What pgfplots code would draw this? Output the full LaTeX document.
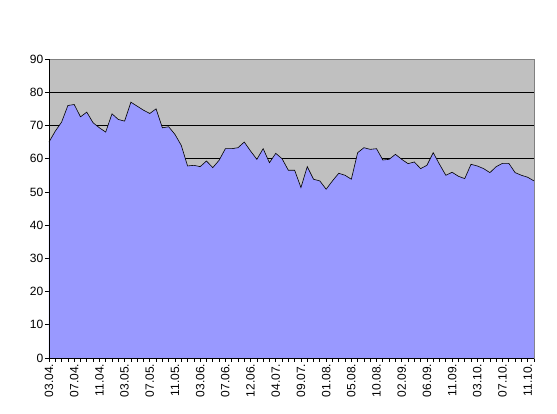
\documentclass[border=0pt]{standalone}
\usepackage{fontspec}
\setmainfont{Liberation Sans}
\usepackage{pgfplots}
\usepackage{pgfplotstable}
\pgfplotsset{compat=1.18}
\definecolor{plotbg}{HTML}{C0C0C0}
\definecolor{areafill}{HTML}{9999FF}
\definecolor{framegray}{HTML}{808080}
\pgfplotstableread{
x y
0 65.0
1 68.3
2 71.0
3 76.0
4 76.3
5 72.6
6 74.0
7 70.8
8 69.3
9 68.0
10 73.5
11 71.8
12 71.3
13 77.0
14 75.8
15 74.6
16 73.6
17 75.0
18 69.3
19 69.6
20 67.3
21 64.0
22 57.8
23 58.0
24 57.6
25 59.3
26 57.3
27 59.5
28 63.0
29 63.0
30 63.3
31 65.0
32 62.3
33 59.8
34 63.0
35 58.8
36 61.6
37 60.0
38 56.5
39 56.5
40 51.3
41 57.6
42 53.8
43 53.3
44 50.8
45 53.3
46 55.6
47 55.0
48 53.8
49 61.8
50 63.3
51 62.8
52 63.0
53 59.6
54 59.8
55 61.3
56 59.8
57 58.5
58 59.0
59 57.0
60 58.0
61 61.8
62 58.3
63 55.0
64 55.9
65 54.7
66 54.0
67 58.3
68 57.8
69 57.0
70 55.8
71 57.6
72 58.6
73 58.6
74 55.8
75 55.0
76 54.4
77 53.3
}\datatable
\begin{document}
\begin{tikzpicture}[x=1pt,y=1pt]
\path[use as bounding box] (0,0) rectangle (557,414);
\fill[white] (0,0) rectangle (557,414);
\begin{axis}[
  at={(49pt,56pt)}, anchor=south west,
  scale only axis, width=485pt, height=299pt,
  xmin=0, xmax=77, ymin=0, ymax=90,
  axis background/.style={fill=plotbg},
  axis line style={framegray, line width=0.8pt},
  ytick={0,10,...,90},
  ymajorgrids,
  major grid style={black, line width=0.8pt},
  xtick={0,4,...,76},
  xticklabels={03.04.,07.04.,11.04.,03.05.,07.05.,11.05.,03.06.,07.06.,12.06.,04.07.,09.07.,01.08.,05.08.,10.08.,02.09.,06.09.,11.09.,03.10.,07.10.,11.10.},
  minor xtick={0,...,77},
  tick align=outside, tick pos=left,
  major tick length=4pt, minor tick length=4pt,
  every tick/.style={black, line width=0.7pt},
  minor tick style={black, line width=0.7pt},
  tick label style={font=\fontsize{12}{14}\selectfont},
  x tick label style={rotate=90, anchor=east, inner sep=1.5pt},
  y tick label style={inner sep=1.5pt},
  /pgf/number format/assume math mode=true,
  clip=false,
]
\addplot[fill=areafill, draw=none] table[x=x,y=y]{\datatable} \closedcycle;
\addplot[black, line width=0.6pt, mark=none] table[x=x,y=y]{\datatable};
\draw[black, line width=0.8pt] (rel axis cs:0,1) -- (rel axis cs:0,0) -- (rel axis cs:1,0);
\end{axis}
\end{tikzpicture}
\end{document}
